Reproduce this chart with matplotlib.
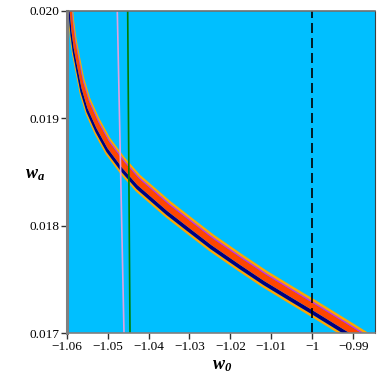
import numpy as np
import matplotlib
matplotlib.use("Agg")
import matplotlib.pyplot as plt

plt.rcParams['font.family'] = ['Liberation Serif', 'DejaVu Serif']
plt.rcParams['mathtext.fontset'] = 'custom'
plt.rcParams['mathtext.it'] = 'Liberation Serif:italic:bold'
plt.rcParams['mathtext.rm'] = 'Liberation Serif:italic:bold'

# centre (navy) line of the confidence band
w0_curve = [-1.0601, -1.05944, -1.05895, -1.05840, -1.05762, -1.05651, -1.05504,
            -1.05284, -1.05015, -1.04649, -1.04282, -1.03550, -1.03012, -1.02474,
            -1.01766, -1.01180, -1.00496, -1.00007, -0.99176, -0.9832]
wa_curve = [0.02025, 0.020000, 0.019795, 0.019637, 0.019479, 0.019265, 0.019078,
            0.018892, 0.018706, 0.018520, 0.018362, 0.018120, 0.017961, 0.017803,
            0.017617, 0.017468, 0.017310, 0.017198, 0.017003, 0.0168]

# band layers: (start, end) as fractions of the band offset, and colours
band_layers = [(-0.27, -0.12), (-0.12, 0.11), (0.11, 0.50), (0.50, 0.58), (0.58, 0.73)]
band_colors = ['#FFA500', '#000080', '#FF4500', '#E020E0', '#FFA500']
band_offset = (0.00105, 0.000155)  # full band shift in (w0, wa)

# two nearly vertical lines (top, bottom)
pink_w0 = [-1.04764, -1.04600]
green_w0 = [-1.04510, -1.04453]
line_wa = [0.020, 0.017]

xticks = [-1.06, -1.05, -1.04, -1.03, -1.02, -1.01, -1.00, -0.99]
xlabels = ['\u22121.06', '\u22121.05', '\u22121.04', '\u22121.03', '\u22121.02',
           '\u22121.01', '\u22121', '\u22120.99']
yticks = [0.017, 0.018, 0.019, 0.020]
ylabels = ['0.017', '0.018', '0.019', '0.020']

fig = plt.figure(figsize=(3.79, 3.79), dpi=100)
ax = fig.add_axes([0.176, 0.1206, 0.8134, 0.8504])
ax.set_facecolor('#00BFFF')

w0 = np.array(w0_curve)
wa = np.array(wa_curve)
for (t1, t2), col in zip(band_layers, band_colors):
    xs = np.concatenate([w0 + t1 * band_offset[0], (w0 + t2 * band_offset[0])[::-1]])
    ys = np.concatenate([wa + t1 * band_offset[1], (wa + t2 * band_offset[1])[::-1]])
    ax.fill(xs, ys, color=col, lw=0)

ax.plot(pink_w0, line_wa, color='#E0A0E0', lw=1.2)
ax.plot(green_w0, line_wa, color='#008000', lw=1.2)
ax.axvline(-1.0, color='black', lw=1.2, dashes=(6, 3))

ax.set_xlim(-1.06, -0.98467)
ax.set_ylim(0.017, 0.020)
ax.set_xticks(xticks)
ax.set_xticklabels(xlabels)
ax.set_yticks(yticks)
ax.set_yticklabels(ylabels)
ax.tick_params(direction='out', length=4, width=1, colors='#333333',
               labelcolor='black', labelsize=9.5, pad=1.5)

ax.spines['left'].set_color('#808080')
ax.spines['left'].set_linewidth(2.2)
ax.spines['top'].set_color('#707070')
ax.spines['top'].set_linewidth(1.2)
ax.spines['right'].set_color('#404040')
ax.spines['right'].set_linewidth(0.8)
ax.spines['bottom'].set_color('#808080')
ax.spines['bottom'].set_linewidth(1.2)

fig.text(35 / 379, 1 - 175 / 379, '$w_a$', fontsize=13, ha='center', va='center')
fig.text(222 / 379, 1 - 366 / 379, '$w_0$', fontsize=13, ha='center', va='center')

fig.savefig('out.png', dpi=100)
